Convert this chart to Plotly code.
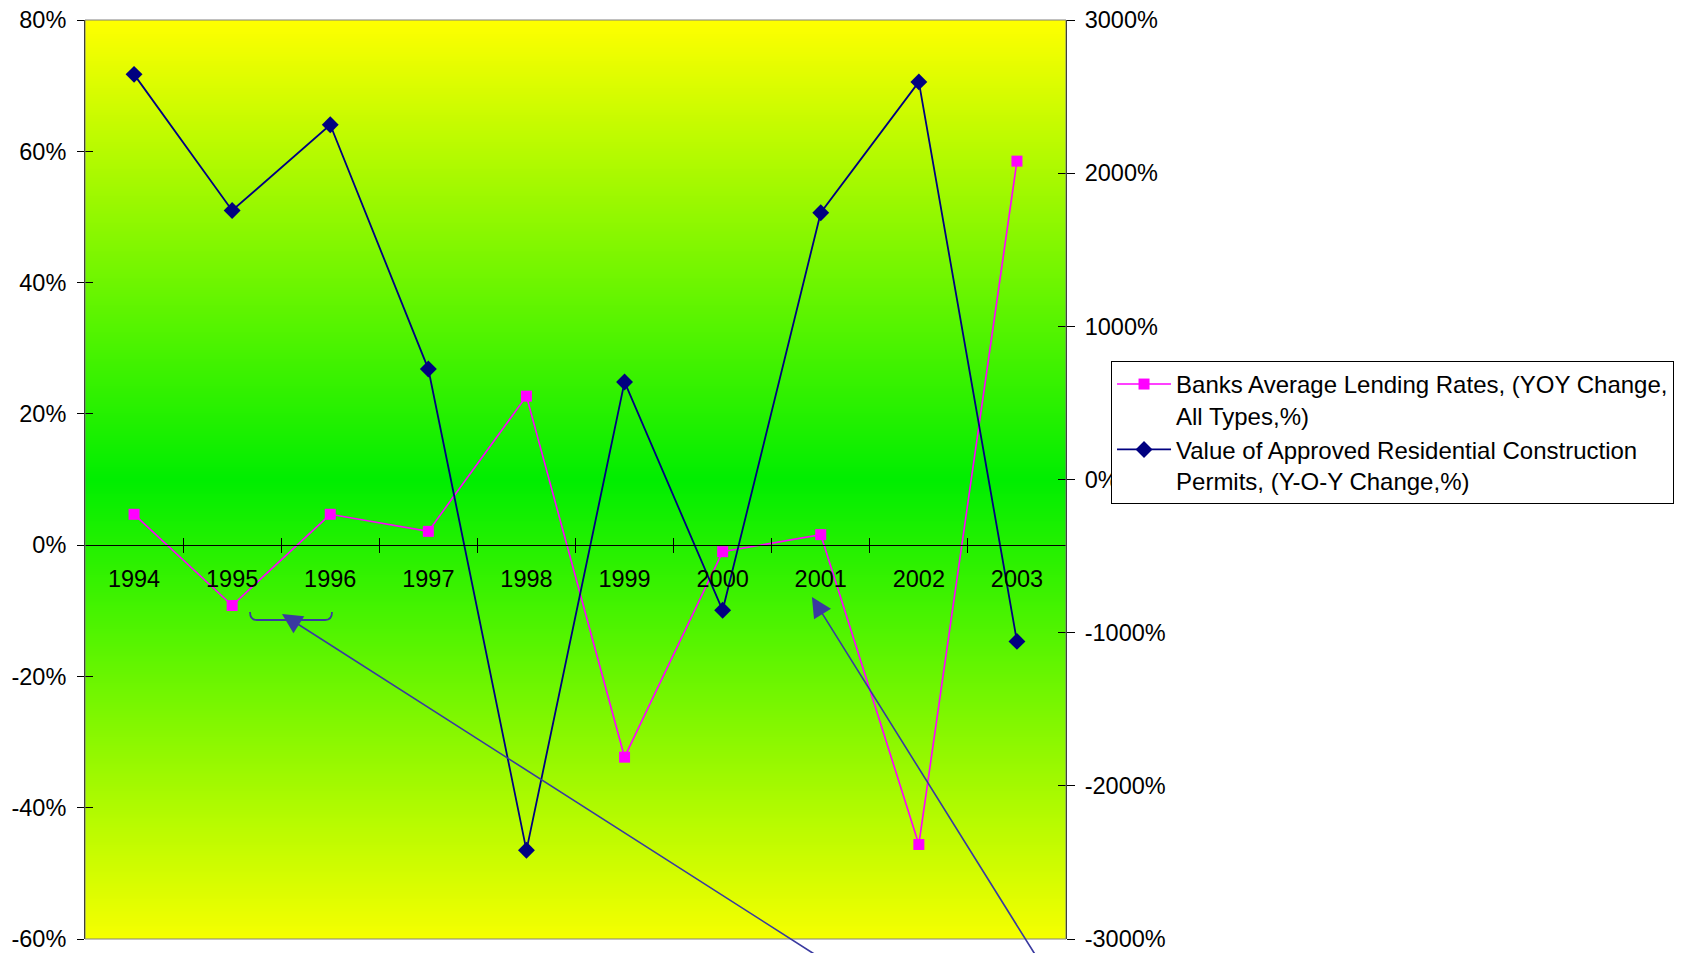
import plotly.graph_objects as go

years = [1994, 1995, 1996, 1997, 1998, 1999, 2000, 2001, 2002, 2003]
lending_yoy = [4.7, -9.2, 4.7, 2.1, 22.7, -32.3, -1.0, 1.6, -45.6, 58.5]
permits_yoy = [2645, 1756, 2316, 721, -2421, 637, -854, 1742, 2596, -1057]

left_ticks = [-60, -40, -20, 0, 20, 40, 60, 80]
left_ticktext = ["-60%", "-40%", "-20%", "0%", "20%", "40%", "60%", "80%"]
right_ticks = [-3000, -2000, -1000, 0, 1000, 2000, 3000]
right_ticktext = ["-3000%", "-2000%", "-1000%", "0%", "1000%", "2000%", "3000%"]
year_labels = [str(y) for y in years]

name_lending = "Banks Average Lending Rates, (YOY Change,<br>All Types,%)"
name_permits = "Value of Approved Residential Construction<br>Permits, (Y-O-Y Change,%)"

left_range = [left_ticks[0], left_ticks[-1]]
right_range = [right_ticks[0], right_ticks[-1]]
x_range = [years[0] - 0.5, years[-1] + 0.5]
boundaries = [y + 0.5 for y in years[:-1]]
zero_pos = (0 - left_range[0]) / (left_range[1] - left_range[0])

FONT = "Liberation Sans, Arial, sans-serif"
ARROW = "#3A3AA0"

fig = go.Figure()

# gradient background (yellow - green - yellow)
fig.add_trace(go.Heatmap(
    x=x_range, y=[left_range[0], sum(left_range) / 2, left_range[1]],
    z=[[0, 0], [0.5, 0.5], [1, 1]],
    colorscale=[[0, "#F6FF00"], [0.5, "#00EE00"], [1, "#FFFF00"]],
    zsmooth="best", showscale=False, hoverinfo="skip", showlegend=False,
    xaxis="x", yaxis="y",
))

fig.add_trace(go.Scatter(
    x=years, y=lending_yoy, name=name_lending, mode="lines+markers",
    line=dict(color="#FF00FF", width=1.6),
    marker=dict(symbol="square", size=11, color="#FF00FF"),
    xaxis="x", yaxis="y",
))
fig.add_trace(go.Scatter(
    x=years, y=permits_yoy, name=name_permits, mode="lines+markers",
    line=dict(color="#000080", width=1.8),
    marker=dict(symbol="diamond", size=13, color="#000080"),
    xaxis="x2", yaxis="y2",
))
# empty traces so the inner-tick overlay axes are drawn
fig.add_trace(go.Scatter(x=[None], y=[None], xaxis="x", yaxis="y3",
                         showlegend=False, hoverinfo="skip"))
fig.add_trace(go.Scatter(x=[None], y=[None], xaxis="x", yaxis="y4",
                         showlegend=False, hoverinfo="skip"))

tickfont = dict(family=FONT, size=23.5, color="black")

fig.update_layout(
    width=1683, height=953,
    margin=dict(l=77, r=625, t=12, b=22, autoexpand=False),
    paper_bgcolor="white", plot_bgcolor="white",
    font=dict(family=FONT, color="black"),
    xaxis=dict(
        range=x_range, anchor="free", position=zero_pos, automargin=False,
        tickmode="array", tickvals=years, ticktext=year_labels,
        ticks="", tickfont=tickfont, ticklabelstandoff=13,
        showline=True, linecolor="black", linewidth=1,
        showgrid=False, zeroline=False,
        minor=dict(tickmode="array", tickvals=boundaries, ticks="outside",
                   ticklen=7, tickcolor="black", tickwidth=1, showgrid=False),
    ),
    xaxis2=dict(
        range=x_range, overlaying="x", anchor="free", position=zero_pos,
        automargin=False,
        tickmode="array", tickvals=boundaries, ticks="inside", ticklen=7,
        tickcolor="black", showticklabels=False, showline=False,
        showgrid=False, zeroline=False,
    ),
    yaxis=dict(
        range=left_range, tickmode="array", tickvals=left_ticks,
        ticktext=left_ticktext, tickfont=tickfont, automargin=False,
        ticklabeloverflow="allow",
        ticks="outside", ticklen=7, tickcolor="black",
        showline=True, linecolor="black", linewidth=1,
        showgrid=False, zeroline=False, anchor="x", ticklabelstandoff=6,
    ),
    yaxis2=dict(
        range=right_range, tickmode="array", tickvals=right_ticks,
        ticktext=right_ticktext, tickfont=tickfont, automargin=False,
        ticklabeloverflow="allow",
        overlaying="y", side="right", anchor="x2",
        ticks="outside", ticklen=8, tickcolor="black",
        showline=True, linecolor="black", linewidth=1,
        showgrid=False, zeroline=False, ticklabelstandoff=5,
    ),
    yaxis3=dict(
        range=left_range, tickmode="array", tickvals=left_ticks,
        overlaying="y", side="left", anchor="x", automargin=False,
        ticks="inside", ticklen=8, tickcolor="black", showticklabels=False,
        showline=False, showgrid=False, zeroline=False,
    ),
    yaxis4=dict(
        range=right_range, tickmode="array", tickvals=right_ticks,
        overlaying="y", side="right", anchor="x", automargin=False,
        ticks="inside", ticklen=8, tickcolor="black", showticklabels=False,
        showline=False, showgrid=False, zeroline=False,
    ),
    legend=dict(
        x=1.0459, y=0.629, xanchor="left", yanchor="top",
        bgcolor="white", bordercolor="black", borderwidth=1,
        font=dict(family=FONT, size=24, color="black"), valign="top",
        itemwidth=54,
    ),
    showlegend=True,
)

# plot-area border (grey top/bottom)
fig.add_shape(type="rect", xref="paper", yref="paper", x0=0, x1=1, y0=0, y1=1,
              line=dict(color="#808080", width=1), layer="above")

# bracket under 1995-1996
bx0, bx1, byt, byb, r = 0.1682, 0.2518, 0.3558, 0.3471, 0.007
fig.add_shape(
    type="path", xref="paper", yref="paper",
    path=(f"M{bx0},{byt} Q{bx0},{byb} {bx0 + r},{byb} L{bx1 - r},{byb} "
          f"Q{bx1},{byb} {bx1},{byt}"),
    line=dict(color=ARROW, width=1.8),
)

# arrows
fig.add_annotation(x=0.2008, y=0.3537, xref="paper", yref="paper",
                   ax=540, ay=345, axref="pixel", ayref="pixel", text="",
                   showarrow=True, arrowhead=2, arrowsize=2.5, arrowwidth=1.6,
                   arrowcolor=ARROW)
fig.add_annotation(x=0.741, y=0.3721, xref="paper", yref="paper",
                   ax=226, ay=362, axref="pixel", ayref="pixel", text="",
                   showarrow=True, arrowhead=2, arrowsize=2.5, arrowwidth=1.6,
                   arrowcolor=ARROW)

fig.write_html("out.html")
